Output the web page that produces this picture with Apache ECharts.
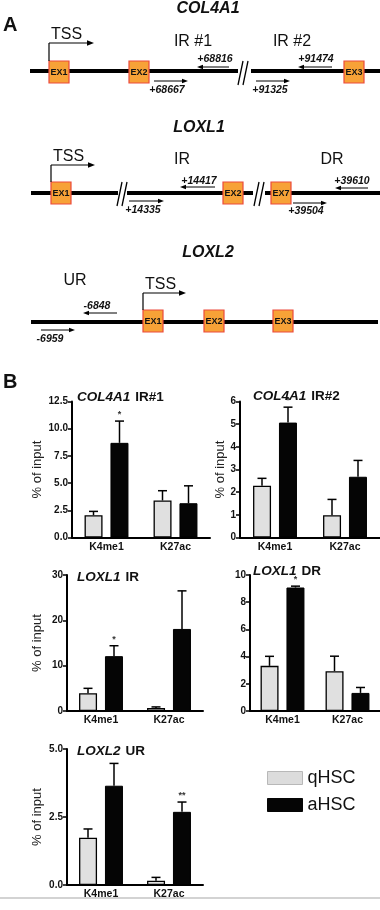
<!DOCTYPE html>
<html>
<head>
<meta charset="utf-8">
<script src="https://cdn.jsdelivr.net/npm/echarts@6/dist/echarts.min.js"></script>
<style>
  html, body { margin: 0; padding: 0; background: #fff; }
  #mychart { width: 380px; height: 910px; }
</style>
</head>
<body>
<div id="mychart"></div>
<script>
"use strict";
// ---- data ----
const marks = ['K4me1', 'K27ac'];
const seriesNames = ['qHSC', 'aHSC'];
const panelGenes = ['COL4A1', 'COL4A1', 'LOXL1', 'LOXL1', 'LOXL2'];
const panelRegions = ['IR#1', 'IR#2', 'IR', 'DR', 'UR'];
const yMax = [12.5, 6, 30, 10, 5];
const yStep = [2.5, 1, 10, 2, 2.5];

const col4a1Ir1Q = [2.05, 3.4], col4a1Ir1QErr = [0.35, 0.9];
const col4a1Ir1A = [8.7, 3.15], col4a1Ir1AErr = [2.0, 1.6];
const col4a1Ir2Q = [2.28, 0.98], col4a1Ir2QErr = [0.33, 0.7];
const col4a1Ir2A = [5.07, 2.68], col4a1Ir2AErr = [0.68, 0.72];
const loxl1IrQ = [3.9, 0.65], loxl1IrQErr = [1.1, 0.25];
const loxl1IrA = [12.1, 18.1], loxl1IrAErr = [2.3, 8.4];
const loxl1DrQ = [3.32, 2.93], loxl1DrQErr = [0.7, 1.1];
const loxl1DrA = [9.08, 1.33], loxl1DrAErr = [0.1, 0.4];
const loxl2UrQ = [1.74, 0.16], loxl2UrQErr = [0.32, 0.12];
const loxl2UrA = [3.65, 2.69], loxl2UrAErr = [0.82, 0.36];
const starsA = [['*', ''], ['*', ''], ['*', ''], ['*', ''], ['', '**']];

// gene diagram labels
const geneNames = ['COL4A1', 'LOXL1', 'LOXL2'];
const col4a1Exons = ['EX1', 'EX2', 'EX3'];
const loxl1Exons = ['EX1', 'EX2', 'EX7'];
const loxl2Exons = ['EX1', 'EX2', 'EX3'];
const col4a1Primers = ['+68816', '+68667', '+91474', '+91325'];
const loxl1Primers = ['+14417', '+14335', '+39610', '+39504'];
const loxl2Primers = ['-6848', '-6959'];

const qVals = [col4a1Ir1Q, col4a1Ir2Q, loxl1IrQ, loxl1DrQ, loxl2UrQ];
const qErrs = [col4a1Ir1QErr, col4a1Ir2QErr, loxl1IrQErr, loxl1DrQErr, loxl2UrQErr];
const aVals = [col4a1Ir1A, col4a1Ir2A, loxl1IrA, loxl1DrA, loxl2UrA];
const aErrs = [col4a1Ir1AErr, col4a1Ir2AErr, loxl1IrAErr, loxl1DrAErr, loxl2UrAErr];

// ---- layout ----
const FONT = 'Liberation Sans, Arial, sans-serif';
const grids = [
    { left: 72, top: 401.5, width: 138, height: 136 },
    { left: 240, top: 401.5, width: 140, height: 136 },
    { left: 67, top: 575, width: 136, height: 136 },
    { left: 250, top: 575, width: 136, height: 136 },
    { left: 67, top: 749, width: 136, height: 136 }
];
const nameGaps = [28, 12, 23, 0, 23];
const titlePos = [[77, 388], [253, 387], [77, 568], [253, 562], [77, 742]];
const BAR_W = 18;
const BAR_OFF = 13;

const container = document.getElementById('mychart');
const myChart = echarts.init(container);

// gene diagram drawn with graphic elements
const g = [];
function seg(x1, y1, x2, y2, w) {
    g.push({ type: 'line', shape: { x1, y1, x2, y2 }, style: { stroke: '#000', lineWidth: w } });
}
function head(x, y, dir, len, half) {
    len = len || 6; half = half || 2.5;
    const b = x - dir * len;
    g.push({ type: 'polygon', shape: { points: [[x, y], [b, y - half], [b, y + half]] }, style: { fill: '#000' } });
}
function txt(x, y, s, font, align) {
    g.push({
        type: 'text', x, y,
        style: { text: s, font, fill: '#111', textAlign: align || 'center', textVerticalAlign: 'middle', align: align || 'center', verticalAlign: 'middle' }
    });
}
function exon(x, y, label) {
    g.push({ type: 'rect', shape: { x, y: y - 11, width: 20, height: 22 }, style: { fill: '#f7a237', stroke: '#ec4a3c', lineWidth: 1.2 } });
    txt(x + 10, y + 0.5, label, 'bold 9px ' + FONT);
}
function breakMark(x, y) {
    seg(x, y + 12, x + 5, y - 12, 1.3);
    seg(x + 5, y + 12, x + 10, y - 12, 1.3);
}
function tss(x, yTop, yArrow, xEnd) {
    seg(x, yTop, x, yArrow, 1.2);
    seg(x, yArrow, xEnd - 5, yArrow, 1.2);
    head(xEnd, yArrow, 1, 7, 2.8);
    txt(x + 2, yArrow - 8, 'TSS', '16px ' + FONT, 'left');
}
function primer(cx, ty, label, x1, x2, ay, dir) {
    txt(cx, ty, label, 'italic bold 10.5px ' + FONT);
    if (dir > 0) { seg(x1, ay, x2 - 5, ay, 1); head(x2, ay, 1, 6, 2.2); }
    else { seg(x1 + 5, ay, x2, ay, 1); head(x1, ay, -1, 6, 2.2); }
}
const titleFont = 'italic bold 16px ' + FONT;
const regFont = '16px ' + FONT;

txt(3, 25, 'A', 'bold 20px ' + FONT, 'left');
txt(3, 382, 'B', 'bold 20px ' + FONT, 'left');

// COL4A1
txt(208, 9, geneNames[0], titleFont);
seg(30, 71, 238, 71, 4); seg(251, 71, 380, 71, 4);
breakMark(238, 73);
exon(49, 72, col4a1Exons[0]); exon(129, 72, col4a1Exons[1]); exon(344, 72, col4a1Exons[2]);
tss(49, 61, 43, 94);
txt(193, 42, 'IR #1', regFont); txt(292, 42, 'IR #2', regFont);
primer(215, 59, col4a1Primers[0], 197, 229, 67, -1);
primer(167, 90, col4a1Primers[1], 154, 188, 81, 1);
primer(316, 59, col4a1Primers[2], 298, 332, 67, -1);
primer(270, 90, col4a1Primers[3], 256, 290, 81, 1);

// LOXL1
txt(199, 128, geneNames[1], titleFont);
seg(31, 193, 118, 193, 4); seg(127, 193, 253, 193, 4); seg(265, 193, 380, 193, 4);
breakMark(117, 194); breakMark(254, 194);
exon(51, 193, loxl1Exons[0]); exon(223, 193, loxl1Exons[1]); exon(271, 193, loxl1Exons[2]);
tss(51, 182, 165, 95);
txt(182, 160, 'IR', regFont); txt(332, 160, 'DR', regFont);
primer(199, 181, loxl1Primers[0], 180, 215, 187, -1);
primer(143, 210, loxl1Primers[1], 129, 164, 201, 1);
primer(352, 181, loxl1Primers[2], 335, 368, 188, -1);
primer(306, 211, loxl1Primers[3], 293, 327, 203, 1);

// LOXL2
txt(208, 253, geneNames[2], titleFont);
seg(31, 322, 378, 322, 4);
exon(143, 321, loxl2Exons[0]); exon(204, 321, loxl2Exons[1]); exon(273, 321, loxl2Exons[2]);
tss(143, 310, 293, 186);
txt(75, 281, 'UR', regFont);
primer(97, 306, loxl2Primers[0], 83, 117, 313, -1);
primer(50, 339, loxl2Primers[1], 41, 75, 330, 1);

// bottom rule
g.push({ type: 'line', shape: { x1: 0, y1: 898, x2: 380, y2: 898 }, style: { stroke: '#c4c4c4', lineWidth: 1.5 } });

// ---- bar panels ----
function errRender(stars, side) {
    return function (params, api) {
        const cat = api.value(0), v = api.value(1), e = api.value(2);
        const p0 = api.coord([cat, v]);
        const p1 = api.coord([cat, v + e]);
        const x = p0[0] + side * BAR_OFF;
        const children = [
            { type: 'line', shape: { x1: x, y1: p0[1], x2: x, y2: p1[1] }, style: { stroke: '#000', lineWidth: 1.5 } },
            { type: 'line', shape: { x1: x - 4.5, y1: p1[1], x2: x + 4.5, y2: p1[1] }, style: { stroke: '#000', lineWidth: 1.5 } }
        ];
        const s = stars ? stars[params.dataIndex] : '';
        if (s) {
            children.push({ type: 'text', x: x, y: p1[1] - 2, style: { text: s, font: 'bold 9px ' + FONT, fill: '#333', align: 'center', verticalAlign: 'bottom' } });
        }
        return { type: 'group', children };
    };
}

const titles = [], xAxes = [], yAxes = [], series = [];
for (let i = 0; i < 5; i++) {
    titles.push({
        text: '{i|' + panelGenes[i] + '} {n|' + panelRegions[i] + '}',
        left: titlePos[i][0], top: titlePos[i][1], padding: 0,
        textStyle: {
            rich: {
                i: { fontFamily: FONT, fontStyle: 'italic', fontWeight: 'bold', fontSize: 13.5, color: '#111' },
                n: { fontFamily: FONT, fontWeight: 'bold', fontSize: 13.5, color: '#111' }
            }
        }
    });
    xAxes.push({
        type: 'category', gridIndex: i, data: marks,
        axisLine: { lineStyle: { color: '#000', width: 2 } },
        axisTick: { alignWithLabel: true, length: 4, lineStyle: { color: '#000', width: 1.5 } },
        axisLabel: { fontFamily: FONT, fontWeight: 'bold', fontSize: 10.5, color: '#111', margin: 4 }
    });
    const dec = (i === 0 || i === 4);
    yAxes.push({
        type: 'value', gridIndex: i, min: 0, max: yMax[i], interval: yStep[i],
        name: i === 3 ? '' : '% of input', nameLocation: 'middle', nameRotate: 90, nameGap: nameGaps[i],
        nameTextStyle: { fontFamily: FONT, fontSize: 13, color: '#222' },
        axisLine: { show: true, lineStyle: { color: '#000', width: 2 } },
        axisTick: { show: true, length: 4, lineStyle: { color: '#000', width: 1.5 } },
        splitLine: { show: false },
        axisLabel: {
            fontFamily: FONT, fontWeight: 'bold', fontSize: 10, color: '#111', margin: 4,
            formatter: v => dec ? v.toFixed(1) : String(v)
        }
    });
    series.push({
        name: seriesNames[0], type: 'bar', xAxisIndex: i, yAxisIndex: i,
        data: qVals[i], barWidth: BAR_W, barGap: '44%',
        itemStyle: { color: '#e0e0e0', borderColor: '#000', borderWidth: 1.3 }
    });
    series.push({
        name: seriesNames[1], type: 'bar', xAxisIndex: i, yAxisIndex: i,
        data: aVals[i], barWidth: BAR_W, barGap: '44%',
        itemStyle: { color: '#050505', borderColor: '#000', borderWidth: 1 }
    });
    series.push({
        name: 'errQ' + i, type: 'custom', xAxisIndex: i, yAxisIndex: i, z: 1,
        renderItem: errRender(null, -1),
        data: qVals[i].map((v, k) => [k, v, qErrs[i][k]])
    });
    series.push({
        name: 'errA' + i, type: 'custom', xAxisIndex: i, yAxisIndex: i, z: 1,
        renderItem: errRender(starsA[i], 1),
        data: aVals[i].map((v, k) => [k, v, aErrs[i][k]])
    });
}

const option = {
    animation: false,
    title: titles,
    grid: grids,
    xAxis: xAxes,
    yAxis: yAxes,
    legend: {
        orient: 'vertical', left: 267, top: 769, padding: 0,
        itemWidth: 35, itemHeight: 13, itemGap: 9,
        icon: 'rect', selectedMode: false,
        textStyle: { fontFamily: FONT, fontSize: 18, color: '#111', padding: [0, 0, 0, 0] },
        data: [
            { name: seriesNames[0], itemStyle: { color: '#dcdcdc', borderColor: '#b8b8b8', borderWidth: 1 } },
            { name: seriesNames[1], itemStyle: { color: '#050505', borderColor: '#050505', borderWidth: 1 } }
        ]
    },
    graphic: { elements: g },
    series
};
myChart.setOption(option);
</script>
</body>
</html>
